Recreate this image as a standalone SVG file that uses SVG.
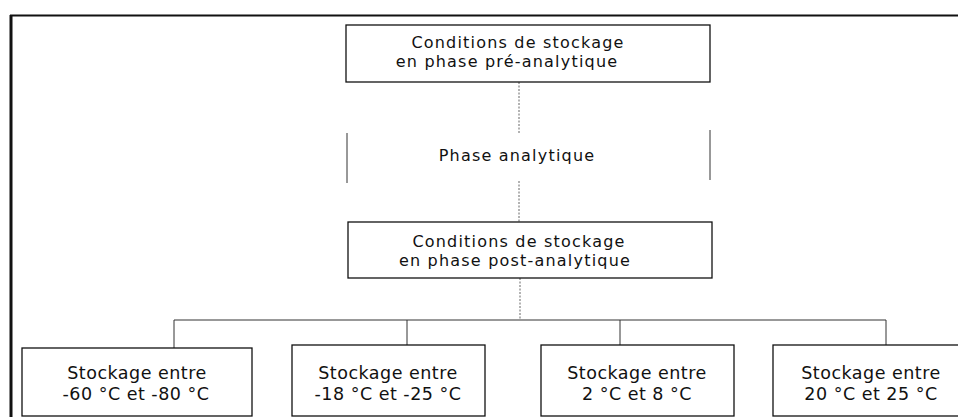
<svg xmlns="http://www.w3.org/2000/svg" width="958" height="417" viewBox="0 0 958 417">
<style>
.box{fill:#fff;stroke:#111;stroke-width:1.3}
.t{font-family:"DejaVu Sans","Liberation Sans",sans-serif;fill:#111;text-anchor:middle}
.up{font-size:16px;letter-spacing:1.2px}
.lo{font-size:17.5px;letter-spacing:0.5px}
.con{fill:none;stroke:#333;stroke-width:1}
.dot{fill:none;stroke:#666;stroke-width:1;stroke-dasharray:2 1.5}
</style>
<rect width="958" height="417" fill="#fff"/>
<g id="frame">
<line x1="10" y1="15.5" x2="958" y2="15.5" stroke="#111" stroke-width="2"/>
<line x1="11" y1="15" x2="11" y2="417" stroke="#111" stroke-width="3"/>
</g>
<g id="connectors">
<line class="dot" x1="519" y1="82" x2="519" y2="133"/>
<line class="dot" x1="519" y1="181" x2="519" y2="222"/>
<line class="dot" x1="520" y1="278" x2="520" y2="320"/>
<polyline class="con" points="174,348 174,320 886,320 886,345"/>
<line class="con" x1="407" y1="320" x2="407" y2="345"/>
<line class="con" x1="620" y1="320" x2="620" y2="345"/>
</g>
<g id="pre">
<rect class="box" x="346" y="25" width="364" height="57"/>
<text class="t up" x="518" y="48">Conditions de stockage</text>
<text class="t up" x="507" y="67">en phase pré-analytique</text>
</g>
<g id="analytique">
<line class="con" x1="347" y1="133" x2="347" y2="183"/>
<line class="con" x1="710" y1="130" x2="710" y2="180"/>
<text class="t up" x="517" y="161">Phase analytique</text>
</g>
<g id="post">
<rect class="box" x="348" y="222" width="364" height="56"/>
<text class="t up" x="519" y="247">Conditions de stockage</text>
<text class="t up" x="515" y="266">en phase post-analytique</text>
</g>
<g id="s1">
<rect class="box" x="22" y="348" width="230" height="68"/>
<text class="t lo" x="137" y="379">Stockage entre</text>
<text class="t lo" x="136" y="400">-60 °C et -80 °C</text>
</g>
<g id="s2">
<rect class="box" x="292" y="345" width="193" height="71"/>
<text class="t lo" x="388" y="379">Stockage entre</text>
<text class="t lo" x="388" y="400">-18 °C et -25 °C</text>
</g>
<g id="s3">
<rect class="box" x="541" y="345" width="193" height="71"/>
<text class="t lo" x="637" y="379">Stockage entre</text>
<text class="t lo" x="637" y="400">2 °C et 8 °C</text>
</g>
<g id="s4">
<rect class="box" x="773" y="345" width="200" height="71"/>
<text class="t lo" x="871" y="379">Stockage entre</text>
<text class="t lo" x="871" y="400">20 °C et 25 °C</text>
</g>
</svg>
